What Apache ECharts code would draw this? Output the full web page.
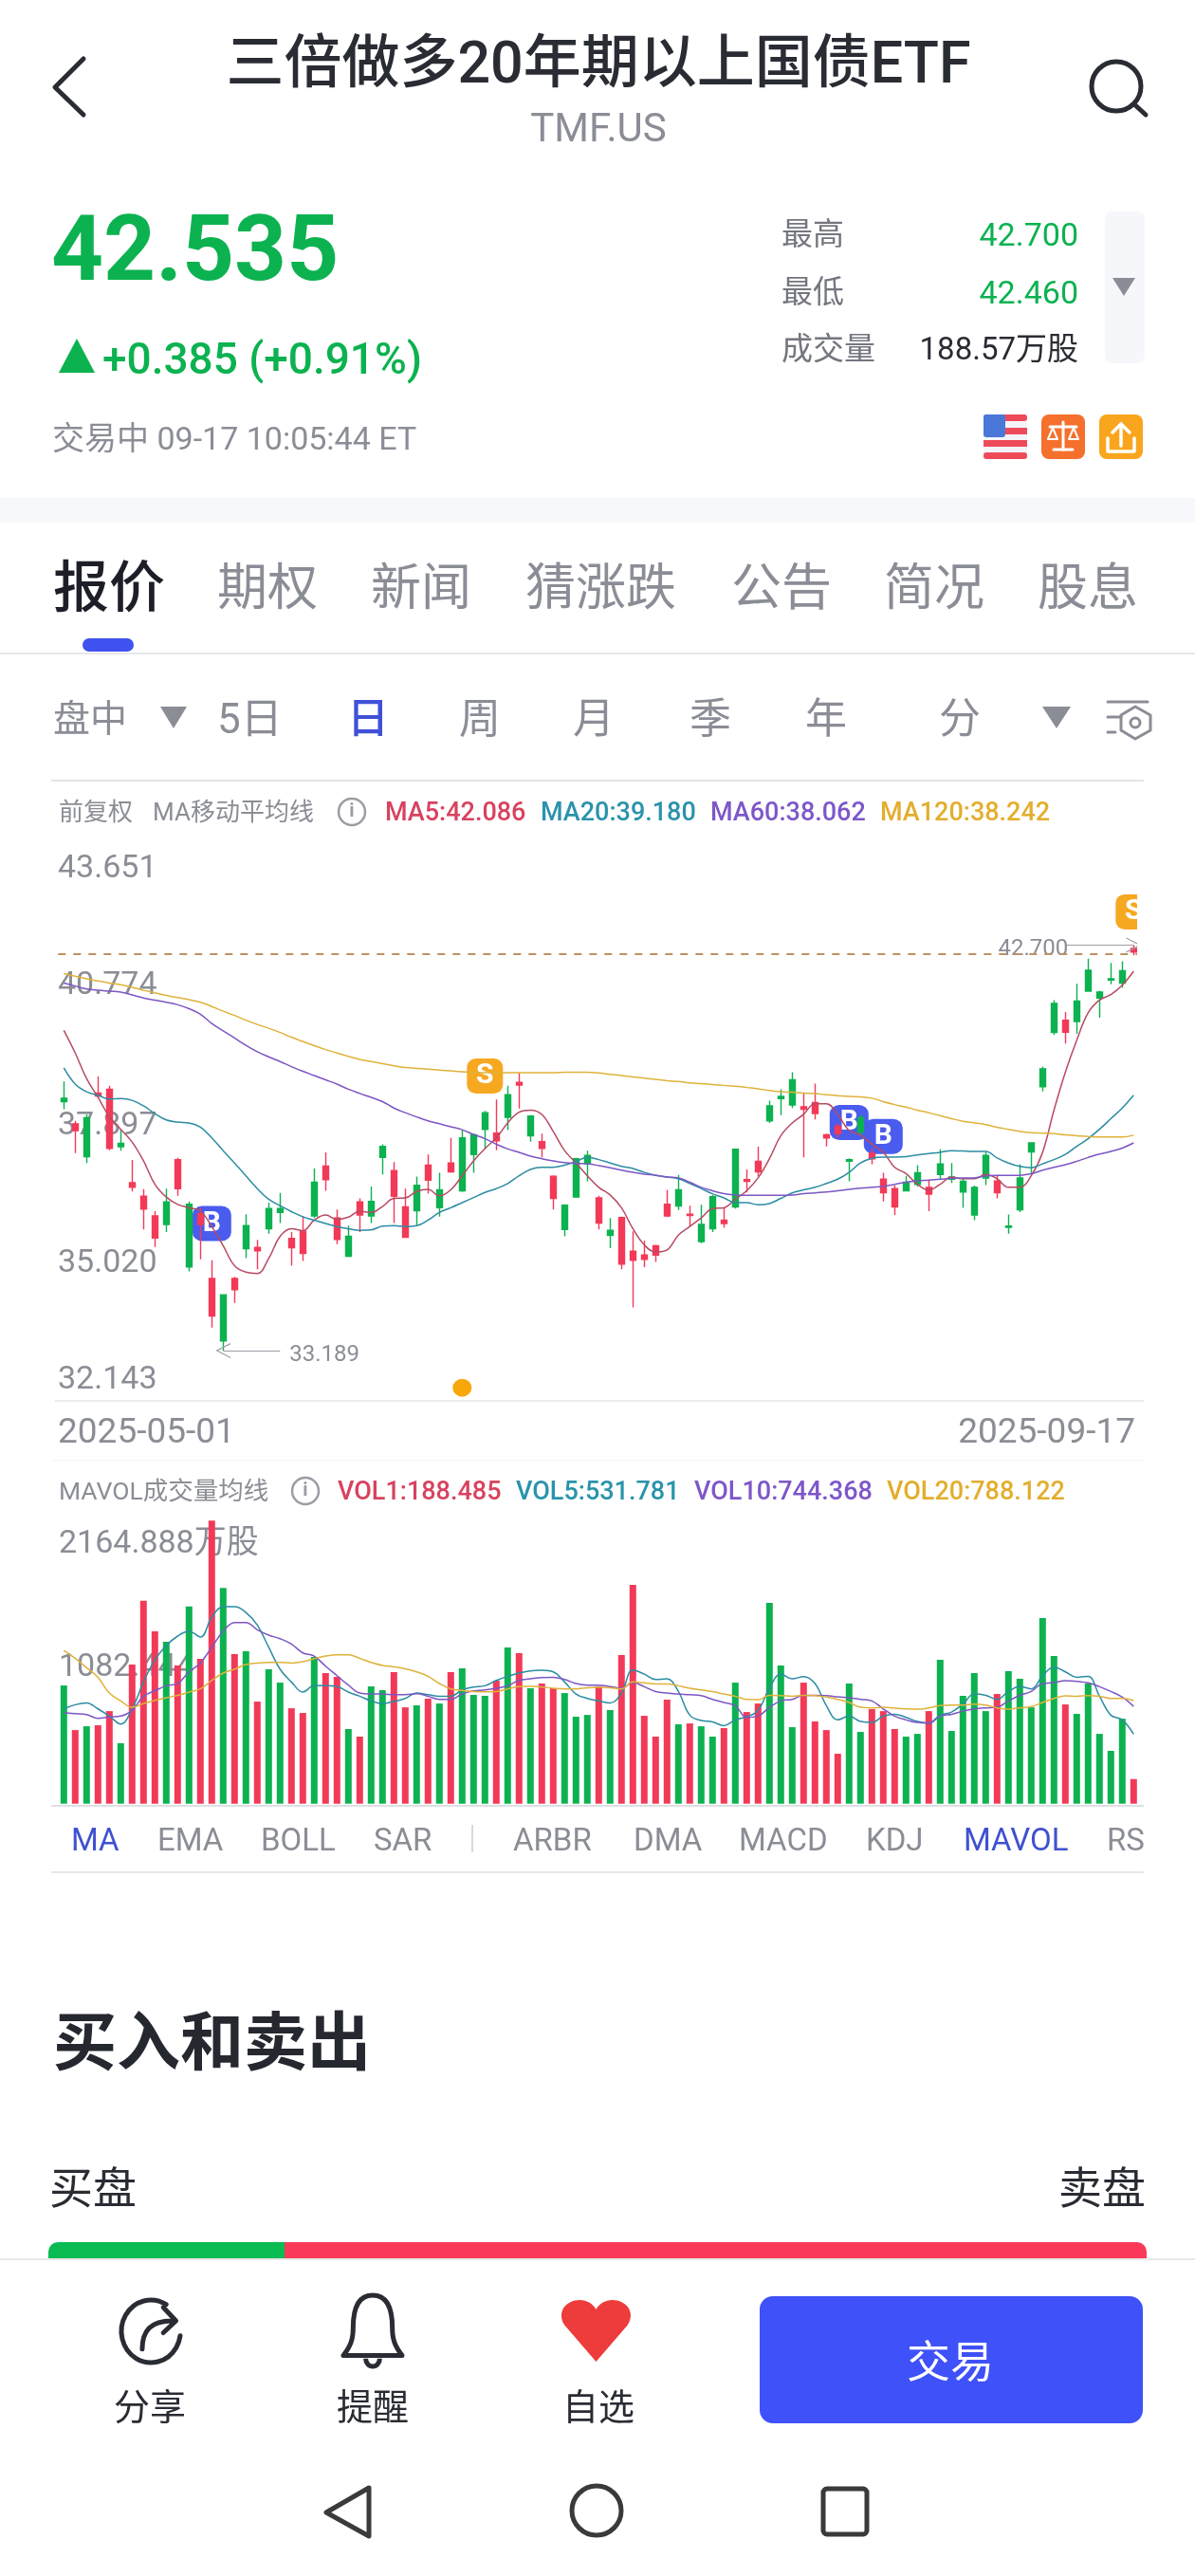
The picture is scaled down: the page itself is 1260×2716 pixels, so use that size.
<!DOCTYPE html>
<html>
<head>
<meta charset="utf-8">
<style>
  html, body { margin: 0; padding: 0; background: #fff; }
  #chart { width: 1260px; height: 2716px; }
</style>
<script src="https://cdn.jsdelivr.net/npm/echarts@6/dist/echarts.min.js"></script>
</head>
<body>
<div id="chart"></div>
<script>
// daily candles
const candleOpen = [39.03,38.51,37.74,39.23,39.32,37.97,37.13,36.81,36.35,36.15,37.67,35.15,36.40,34.88,33.42,34.88,35.58,35.61,36.05,36.43,35.82,35.99,36.35,37.52,36.30,35.40,36.68,36.35,37.72,37.41,
  36.56,36.47,37.54,36.54,37.59,36.94,37.79,38.38,38.29,38.66,39.48,38.23,38.09,37.28,36.03,36.79,37.57,36.77,35.89,36.31,35.52,35.43,35.65,36.62,36.58,36.39,35.75,36.05,36.25,36.56,37.20,37.63,38.58,39.10,38.95,
  38.91,39.01,38.25,38.45,37.63,38.31,37.82,37.21,36.99,36.94,37.09,37.02,37.32,37.21,36.91,36.37,37.24,37.17,36.08,36.49,37.85,39.38,40.65,40.94,40.91,41.62,41.46,41.88,41.81,42.62]
const candleClose = [39.11,38.35,38.65,39.16,37.93,38.05,37.02,36.51,35.83,36.68,36.99,36.62,36.15,34.00,34.50,34.62,36.12,35.53,36.52,36.52,35.60,35.47,37.14,37.20,35.80,35.87,36.37,36.69,37.98,36.81,
  35.85,37.07,37.19,36.96,37.38,38.18,38.25,38.77,38.11,39.19,39.42,38.69,37.93,36.76,36.60,37.69,37.77,36.18,36.01,35.22,35.31,35.33,35.43,36.35,36.96,36.36,36.15,36.80,36.17,37.91,37.16,37.38,38.93,39.15,39.54,
  38.85,38.75,38.18,38.28,37.67,38.65,37.69,36.89,36.56,37.14,37.36,36.86,37.57,37.26,37.16,37.02,37.77,36.89,36.11,37.24,38.06,39.80,41.33,40.66,41.39,42.11,41.60,41.91,42.10,42.535]
const candleLow = [38.85,37.82,37.59,39.13,37.89,37.88,36.92,36.03,35.62,35.97,36.82,35.05,35.33,33.73,33.189,34.31,35.36,35.10,35.93,36.18,35.18,35.29,36.30,36.94,35.69,35.38,35.97,36.18,37.32,36.18,
  35.83,36.13,36.87,36.33,37.36,36.91,37.36,37.93,37.89,38.36,38.87,38.09,37.72,36.50,35.87,36.78,37.16,36.03,35.59,35.10,34.20,35.15,35.27,36.32,36.49,36.11,35.71,35.97,36.07,36.52,36.90,37.28,38.53,38.71,38.88,
  37.72,38.61,37.98,38.18,37.16,38.23,37.56,36.69,36.37,36.92,37.04,36.46,37.22,37.12,36.54,36.25,37.07,36.76,35.93,36.44,37.34,39.27,40.59,40.39,40.62,41.61,41.00,41.78,41.70,42.46]
const candleHigh = [39.50,38.58,38.73,39.62,39.40,38.36,37.66,36.98,36.46,36.99,37.71,36.69,36.54,35.31,34.50,34.92,36.39,35.79,36.66,36.89,35.97,36.35,37.46,37.84,36.50,36.12,36.76,37.04,38.03,37.61,
  36.99,37.27,37.79,37.36,38.18,38.35,38.28,38.81,39.08,39.40,39.70,38.71,38.28,37.30,36.62,37.71,37.88,36.82,36.30,36.33,35.99,35.77,35.67,36.96,37.31,36.59,36.61,36.84,36.54,37.92,37.44,37.97,39.05,39.32,39.72,
  39.23,39.45,38.28,38.53,37.70,38.73,37.93,37.36,37.06,37.29,37.54,37.19,37.91,37.59,37.24,37.06,37.84,37.29,36.38,37.56,38.08,39.85,41.41,41.13,41.79,42.38,41.63,42.28,42.32,42.70]

const ma5 = [40.70,40.17,39.57,39.13,38.68,38.38,38.08,37.64,37.09,36.79,36.62,36.54,36.46,36.10,35.65,35.18,35.03,35.00,35.35,35.87,36.05,36.00,36.25,36.37,36.27,36.32,36.46,36.43,36.57,36.76,
  36.77,36.92,36.97,36.82,36.96,37.29,37.64,37.93,38.18,38.53,38.78,38.83,38.73,38.33,37.88,37.59,37.29,37.02,36.84,36.54,36.05,35.67,35.50,35.55,35.90,36.10,36.30,36.52,36.54,36.74,36.94,37.24,37.69,38.23,38.53,
  38.73,38.98,38.98,38.73,38.35,38.25,38.03,37.84,37.49,37.34,37.09,36.96,37.09,37.26,37.22,37.22,37.32,37.22,37.02,37.02,37.29,37.84,38.83,39.72,40.47,41.11,41.41,41.54,41.76,42.086]
const ma20 = [39.82,39.44,39.26,39.18,39.09,39.10,39.06,38.93,38.75,38.60,38.55,38.53,38.43,38.18,37.88,37.59,37.29,36.99,36.74,36.59,36.45,36.33,36.25,36.17,36.10,36.05,36.01,36.02,36.11,36.12,
  36.10,36.12,36.25,36.43,36.54,36.66,36.78,36.90,36.99,37.11,37.29,37.44,37.49,37.49,37.54,37.62,37.72,37.67,37.59,37.51,37.46,37.37,37.30,37.26,37.22,37.11,36.99,36.87,36.77,36.66,36.66,36.61,36.64,36.76,36.89,
  36.96,37.02,37.11,37.21,37.37,37.59,37.70,37.73,37.73,37.74,37.78,37.81,37.84,37.88,37.87,37.86,37.86,37.71,37.59,37.51,37.48,37.57,37.67,37.79,37.98,38.16,38.38,38.63,38.88,39.18]
const ma60 = [41.81,41.74,41.67,41.64,41.62,41.60,41.53,41.46,41.41,41.36,41.30,41.21,41.08,40.86,40.69,40.52,40.35,40.20,40.08,39.97,39.85,39.74,39.64,39.54,39.44,39.32,39.22,39.13,39.03,38.88,
  38.77,38.67,38.58,38.51,38.44,38.37,38.26,38.16,38.03,37.92,37.84,37.75,37.69,37.64,37.60,37.58,37.57,37.53,37.48,37.42,37.37,37.33,37.30,37.26,37.24,37.14,37.02,36.94,36.87,36.84,36.83,36.83,36.83,36.83,36.84,
  36.87,36.89,36.91,36.94,36.97,37.00,37.02,37.04,37.09,37.14,37.17,37.19,37.21,37.23,37.24,37.24,37.29,37.30,37.30,37.30,37.34,37.42,37.49,37.55,37.63,37.72,37.80,37.86,37.94,38.062]
const ma120 = [42.03,41.97,41.91,41.86,41.81,41.77,41.71,41.64,41.58,41.52,41.47,41.42,41.36,41.26,41.15,41.05,40.94,40.84,40.75,40.65,40.54,40.44,40.34,40.25,40.17,40.09,40.02,39.97,39.92,39.87,
  39.83,39.81,39.79,39.77,39.75,39.73,39.72,39.71,39.71,39.71,39.71,39.71,39.71,39.71,39.72,39.72,39.72,39.70,39.67,39.64,39.61,39.58,39.55,39.52,39.50,39.47,39.45,39.43,39.41,39.39,39.36,39.33,39.29,39.26,39.25,
  39.23,39.22,39.19,39.17,39.15,39.14,39.11,39.03,38.96,38.90,38.83,38.77,38.70,38.63,38.57,38.53,38.49,38.43,38.38,38.33,38.30,38.29,38.28,38.25,38.23,38.21,38.20,38.20,38.20,38.242]

// volume in 万股
const volume = [904,563,592,600,708,462,1064,1552,1318,1238,1057,1509,1107,2164.888,1651,1144,1165,781,1028,926,730,694,1122,999,970,571,513,897,868,1006,
  737,752,803,766,1006,1035,832,825,941,1194,1151,883,919,883,846,665,679,897,716,1136,1673,672,513,796,607,614,592,513,578,926,701,766,1535,1057,585,
  926,629,563,382,919,549,723,708,571,513,534,708,1100,556,825,999,708,839,1013,955,737,1419,1129,759,687,919,534,404,650,188.485]
const vol5 = [725,757,771,725,670,609,725,931,1100,1209,1282,1318,1274,1427,1506,1506,1463,1366,1197,1028,931,854,902,902,895,854,822,786,766,781,
  805,846,834,822,822,870,892,902,943,974,999,1016,1020,1008,931,839,805,786,771,846,1023,991,950,955,858,677,636,626,597,641,665,713,883,991,955,
  972,919,750,641,670,629,621,670,684,660,629,617,677,701,762,839,829,798,858,895,878,979,1045,1008,967,974,822,677,641,531.781]
const vol10 = [696,689,682,653,663,670,713,822,863,902,919,1008,1076,1197,1318,1386,1386,1330,1289,1262,1221,1153,1129,1052,979,907,846,839,839,834,
  834,841,822,798,798,839,863,870,883,902,943,955,965,967,950,919,907,907,895,883,926,895,858,846,839,834,827,798,774,750,660,670,737,786,798,
  829,829,827,817,810,798,786,725,670,641,621,617,670,684,708,725,733,737,786,829,858,919,926,941,936,924,895,858,815,744.368]
const vol20 = [1173,1112,1040,967,846,786,737,766,791,810,829,854,878,943,999,1028,1064,1076,1081,1081,1076,1086,1110,1129,1139,1139,1112,1081,1057,1047,
  1032,1008,974,919,878,866,858,856,858,878,895,897,892,883,878,878,887,890,887,878,931,924,916,916,902,883,870,858,839,822,798,795,829,827,822,
  829,827,815,798,774,737,733,737,730,725,723,733,750,754,754,762,754,733,723,733,742,774,805,825,822,827,822,805,805,788.122]

const priceTicks = [43.651, 40.774, 37.897, 35.020, 32.143]
const volTicks = [2164.888, 1082.444]
const dateLabels = ['2025-05-01', '2025-09-17']
const lastPrice = 42.5
const lowMark = { index: 14, price: 33.189 }
const highMark = { index: 94, price: 42.7 }
// buy / sell signals on the candles
const signalIndex = [13, 37, 69, 72, 94]
const signalPrice = [36.17, 39.63, 38.54, 38.21, 43.48]
const signalKind = ['B', 'S', 'B', 'B', 'S']
const dotIndex = [35]
const dotPrice = [32.32]

const categories = candleOpen.map((_, i) => i)
const UP = '#0cb250'
const DOWN = '#f23a58'
const BLUE = '#3f51ee'
const GREY = '#8b8d96'
const DARK = '#2a2c34'
const FF = 'Roboto, "Noto Sans CJK SC", sans-serif'
const MA_COLORS = ['#b84a62', '#2b8ca3', '#7c56c4', '#dfb23a']

// chrome helpers
const txt = (x, y, text, size, fill, weight, align, z) => ({
  type: 'text', x, y: y + size * 0.09, z: z || 0, silent: true,
  style: { text, fill, font: (weight || 400) + ' ' + size + 'px ' + FF, align: align || 'left', verticalAlign: 'middle' },
})
const box = (x, y, width, height, fill, r, z) => ({
  type: 'rect', z: z || 0, silent: true, shape: { x, y, width, height, r: r || 0 }, style: { fill },
})
const stroke = (points, color, width, closed) => ({
  type: closed ? 'polygon' : 'polyline', silent: true, shape: { points },
  style: { stroke: color, lineWidth: width, fill: 'none', lineJoin: 'round', lineCap: 'round' },
})
const solid = (points, fill) => ({ type: 'polygon', silent: true, shape: { points }, style: { fill } })
const ring = (cx, cy, r, color, width) => ({
  type: 'circle', silent: true, shape: { cx, cy, r }, style: { stroke: color, lineWidth: width, fill: 'none' },
})

const priceLabelY = [913, 1036, 1184, 1329, 1452]
const volLabelY = [1625, 1755]

const chrome = [
  // header
  stroke([[88, 62], [58, 92], [88, 121]], DARK, 5),
  txt(631, 66, '三倍做多20年期以上国债ETF', 61, DARK, 500, 'center'),
  txt(631, 135, 'TMF.US', 42, GREY, 400, 'center'),
  ring(1177, 91, 26, DARK, 5),
  stroke([[1196, 110], [1208, 121]], DARK, 5),
  txt(54, 262, '42.535', 96, UP, 700),
  solid([[81, 357], [100, 393], [62, 393]], UP),
  txt(108, 378, '+0.385 (+0.91%)', 46, UP, 500),
  txt(55, 462, '交易中 09-17 10:05:44 ET', 34, GREY),
  txt(824, 247, '最高', 33, '#74767f'),
  txt(1137, 247, '42.700', 34, UP, 400, 'right'),
  txt(824, 308, '最低', 33, '#74767f'),
  txt(1137, 308, '42.460', 34, UP, 400, 'right'),
  txt(824, 368, '成交量', 33, '#74767f'),
  txt(1137, 368, '188.57万股', 33, DARK, 400, 'right'),
  box(1165, 223, 42, 160, '#f6f7fb', 8),
  solid([[1173, 293], [1197, 293], [1185, 312]], GREY),
  // flag
  box(1037, 437, 46, 47, '#f4f4f8', 8),
  box(1037, 437, 46, 7, '#ee4a5a', 3), box(1037, 451, 46, 7, '#ee4a5a'), box(1037, 464, 46, 7, '#ee4a5a'), box(1037, 477, 46, 7, '#ee4a5a', 3),
  box(1037, 437, 23, 24, '#4a78d8', 3),
  // scale and upload badges
  box(1098, 437, 46, 47, '#f5702c', 8),
  stroke([[1107, 450], [1135, 450]], '#fff', 3), stroke([[1121, 445], [1121, 474]], '#fff', 3), stroke([[1111, 474], [1131, 474]], '#fff', 3),
  stroke([[1105, 463], [1110, 451], [1115, 463], [1105, 463]], '#fff', 2), stroke([[1127, 463], [1132, 451], [1137, 463], [1127, 463]], '#fff', 2),
  box(1159, 437, 46, 47, '#f9a61e', 8),
  stroke([[1182, 470], [1182, 447]], '#fff', 3.5), stroke([[1173, 456], [1182, 447], [1191, 456]], '#fff', 3.5),
  stroke([[1168, 462], [1168, 476], [1196, 476], [1196, 462]], '#fff', 3.5),
  box(0, 525, 1260, 26, '#f7f8fc'),
  // tabs
  txt(56, 620, '报价', 59, '#1d1f28', 500),
  txt(229, 620, '期权', 53, GREY), txt(391, 620, '新闻', 53, GREY), txt(554, 620, '猜涨跌', 53, GREY),
  txt(771, 620, '公告', 53, GREY), txt(932, 620, '简况', 53, GREY), txt(1094, 620, '股息', 53, GREY),
  box(87, 673, 54, 14, BLUE, 7),
  box(0, 688, 1260, 2, '#e6e7ec'),
  // period row
  txt(56, 758, '盘中', 39, GREY), solid([[169, 745], [197, 745], [183, 768]], GREY),
  txt(229, 758, '5日', 44, GREY), txt(366, 758, '日', 44, '#3f51d8', 500), txt(484, 758, '周', 44, GREY),
  txt(604, 758, '月', 44, GREY), txt(727, 758, '季', 44, GREY), txt(849, 758, '年', 44, GREY), txt(990, 758, '分', 44, GREY),
  solid([[1099, 745], [1129, 745], [1114, 768]], GREY),
  stroke([[1168, 740], [1210, 740]], GREY, 3), stroke([[1168, 756], [1182, 756]], GREY, 3), stroke([[1168, 772], [1176, 772]], GREY, 3),
  stroke([[1197, 745], [1213, 754], [1213, 770], [1197, 779], [1182, 770], [1182, 754]], GREY, 3, true), ring(1197, 762, 5, GREY, 3),
  // price panel legend
  box(54, 822, 1152, 2, '#e3e4e8'),
  txt(62, 856, '前复权', 26, GREY), txt(161, 856, 'MA移动平均线', 26, GREY),
  ring(371, 856, 14, '#9b9da5', 2.5), txt(371, 854, 'i', 20, '#9b9da5', 700, 'center'),
  txt(406, 856, 'MA5:42.086', 27, '#d8425f', 500), txt(570, 856, 'MA20:39.180', 27, '#2a93ab', 500),
  txt(749, 856, 'MA60:38.062', 27, '#7d57c9', 500), txt(928, 856, 'MA120:38.242', 27, '#e3ae2d', 500),
  ...priceTicks.map((t, i) => txt(61, priceLabelY[i], t.toFixed(3), 34, GREY)),
  box(58, 1476, 1148, 2, '#e9eaee'),
  txt(61, 1508, dateLabels[0], 37, GREY), txt(1197, 1508, dateLabels[1], 37, GREY, 400, 'right'),
  // volume panel legend
  box(54, 1539, 1152, 2, '#f9f9fa'),
  txt(62, 1572, 'MAVOL成交量均线', 26.5, GREY),
  ring(322, 1572, 14, '#9b9da5', 2.5), txt(322, 1570, 'i', 20, '#9b9da5', 700, 'center'),
  txt(356, 1572, 'VOL1:188.485', 27, '#d8425f', 500), txt(544, 1572, 'VOL5:531.781', 27, '#2a93ab', 500),
  txt(732, 1572, 'VOL10:744.368', 27, '#7d57c9', 500), txt(935, 1572, 'VOL20:788.122', 27, '#e3ae2d', 500),
  txt(62, volLabelY[0], volTicks[0].toFixed(3) + '万股', 34, GREY),
  txt(62, volLabelY[1], volTicks[1].toFixed(3), 34, GREY),
  box(54, 1903, 1152, 2, '#dfe0e4'),
  // indicator tabs
  txt(75, 1940, 'MA', 33, '#3f51d0'), txt(166, 1940, 'EMA', 33, GREY), txt(275, 1940, 'BOLL', 33, GREY), txt(394, 1940, 'SAR', 33, GREY),
  box(497, 1924, 2, 29, '#d8d9de'),
  txt(541, 1940, 'ARBR', 33, GREY), txt(668, 1940, 'DMA', 33, GREY), txt(779, 1940, 'MACD', 33, GREY), txt(913, 1940, 'KDJ', 33, GREY),
  txt(1016, 1940, 'MAVOL', 33, '#3f51d0'), txt(1167, 1940, 'RS', 33, GREY),
  box(54, 1973, 1152, 2, '#e6e7ea'),
  // order book
  txt(56, 2154, '买入和卖出', 67, '#26282f', 700),
  txt(52, 2307, '买盘', 46, DARK), txt(1208, 2307, '卖盘', 46, DARK, 400, 'right'),
  box(51, 2364, 260, 20, '#0abb52', [10, 0, 0, 0]), box(300, 2364, 909, 20, '#fa3a58', [0, 10, 0, 0]),
  box(0, 2381, 1260, 335, '#ffffff'),
  box(0, 2381, 1260, 2, '#e9e9ea'),
  // bottom bar
  txt(158, 2538, '分享', 38, DARK, 400, 'center'), txt(393, 2538, '提醒', 38, DARK, 400, 'center'), txt(631, 2538, '自选', 38, DARK, 400, 'center'),
  box(801, 2421, 404, 134, '#3f51f8', 14),
  txt(1002, 2490, '交易', 46, '#fff', 400, 'center'),
  stroke([[389, 2623], [344, 2649], [389, 2674]], '#3a3a3a', 5, true),
  ring(629, 2647, 26, '#3a3a3a', 5),
  { type: 'rect', silent: true, shape: { x: 868, y: 2624, width: 46, height: 48, r: 4 }, style: { stroke: '#3a3a3a', lineWidth: 5, fill: 'none' } },
  // plot ends here on the right, the last candle and badge are cut off
  box(1199, 900, 61, 570, '#ffffff', 0, 50),
]

// bottom bar icons, graphic has no svg path element so they go through a custom series
const barIcons = [
  { d: 'M70 8 A42 42 0 1 0 90 50 M36 68 C36 42 50 30 78 30 M66 12 L84 30 L66 46', x: 128, y: 2425, w: 62, h: 66, style: { stroke: DARK, lineWidth: 5, fill: 'none', lineCap: 'round', lineJoin: 'round' } },
  { d: 'M50 6 C26 6 22 28 22 48 C22 64 18 72 8 84 L92 84 C82 72 78 64 78 48 C78 28 74 6 50 6 Z M40 88 A10 10 0 0 0 60 88', x: 362, y: 2420, w: 62, h: 75, style: { stroke: DARK, lineWidth: 5, fill: 'none', lineJoin: 'round' } },
  { d: 'M50 96 L8 42 C-4 22 10 4 28 4 C38 4 46 10 50 18 C54 10 62 4 72 4 C90 4 104 22 92 42 Z', x: 592, y: 2425, w: 73, h: 65, style: { fill: '#ee3b3b' } },
]

const lineSeries = (name, data, color, xi) => ({
  name, type: 'line', data, xAxisIndex: xi, yAxisIndex: xi, smooth: 0.4, symbol: 'none', z: 3,
  lineStyle: { color, width: 1.5 }, silent: true,
})

const leaderArrow = 'path://M0,20 L10,0 L20,20 L18.6,20.6 L10,3.4 L1.4,20.6 Z'
const leader = (from, toIndex, label, dist) => ([
  { coord: [from.index, from.price], symbol: leaderArrow, symbolSize: 16 },
  { coord: [toIndex, from.price], symbol: 'none', label: { show: true, position: 'end', formatter: label, color: GREY, fontSize: 24, fontFamily: FF, distance: dist, offset: [0, 5] } },
])

const chart = echarts.init(document.getElementById('chart'))
chart.setOption({
  animation: false,
  backgroundColor: '#fff',
  graphic: { elements: chrome },
  grid: [
    { left: 61.3, top: 953.7, width: 1140, height: 517.4 },
    { left: 61.3, top: 1603.3, width: 1140, height: 298.4 },
  ],
  xAxis: [
    { type: 'category', data: categories, gridIndex: 0, show: false },
    { type: 'category', data: categories, gridIndex: 1, show: false },
  ],
  yAxis: [
    { type: 'value', gridIndex: 0, min: priceTicks[4], max: priceTicks[0], show: false, scale: true },
    { type: 'value', gridIndex: 1, min: 0, max: volTicks[0], show: false },
  ],
  series: [
    {
      name: 'signals', type: 'scatter', z: 1, xAxisIndex: 0, yAxisIndex: 0, silent: true, clip: false,
      data: signalIndex.map((x, i) => ({
        value: [x, signalPrice[i]],
        symbol: 'roundRect',
        symbolSize: signalKind[i] === 'B' ? [41, 37] : [38, 37],
        itemStyle: { color: signalKind[i] === 'B' ? '#4a5cee' : '#f6a821', opacity: 1 },
        label: { show: true, position: 'inside', formatter: signalKind[i], color: '#fff', fontSize: 30, fontWeight: 700, fontFamily: FF },
      })),
    },
    {
      name: 'dot', type: 'scatter', z: 1, xAxisIndex: 0, yAxisIndex: 0, silent: true, clip: false,
      symbol: 'circle', symbolSize: [20, 19], itemStyle: { color: '#f7a70a', opacity: 1 },
      data: dotIndex.map((x, i) => [x, dotPrice[i]]),
    },
    {
      name: 'K', type: 'candlestick', xAxisIndex: 0, yAxisIndex: 0, barWidth: 7, z: 2, silent: true,
      data: categories.map((i) => [candleOpen[i], candleClose[i], candleLow[i], candleHigh[i]]),
      itemStyle: { color: UP, color0: DOWN, borderColor: UP, borderColor0: DOWN, borderWidth: 1.4 },
      markLine: {
        silent: true, animation: false, z: 4,
        lineStyle: { color: '#9c9ea6', width: 1, type: 'solid' },
        data: [leader(lowMark, 19, '33.189', 10), leader(highMark, 88, '42.700', -3)],
      },
    },
    lineSeries('MA5', ma5, MA_COLORS[0], 0),
    lineSeries('MA20', ma20, MA_COLORS[1], 0),
    lineSeries('MA60', ma60, MA_COLORS[2], 0),
    lineSeries('MA120', ma120, MA_COLORS[3], 0),
    {
      name: 'last', type: 'line', data: [], xAxisIndex: 0, yAxisIndex: 0,
      markLine: {
        silent: true, symbol: 'none', animation: false, label: { show: false },
        lineStyle: { color: '#c08f60', width: 2, type: [8, 8] },
        data: [{ yAxis: lastPrice }],
      },
    },
    {
      name: 'VOL', type: 'bar', xAxisIndex: 1, yAxisIndex: 1, barWidth: 7, z: 2, silent: true,
      data: volume.map((v, i) => ({ value: v, itemStyle: { color: candleClose[i] >= candleOpen[i] ? UP : DOWN } })),
    },
    lineSeries('VOL5', vol5, MA_COLORS[1], 1),
    lineSeries('VOL10', vol10, MA_COLORS[2], 1),
    lineSeries('VOL20', vol20, MA_COLORS[3], 1),
    {
      name: 'icons', type: 'custom', coordinateSystem: 'none', silent: true, z: 5,
      data: barIcons.map((_, i) => i),
      renderItem: (params) => {
        const ic = barIcons[params.dataIndex]
        return { type: 'path', shape: { pathData: ic.d, x: ic.x, y: ic.y, width: ic.w, height: ic.h, layout: 'cover' }, style: ic.style }
      },
    },
  ],
})
</script>
</body>
</html>
